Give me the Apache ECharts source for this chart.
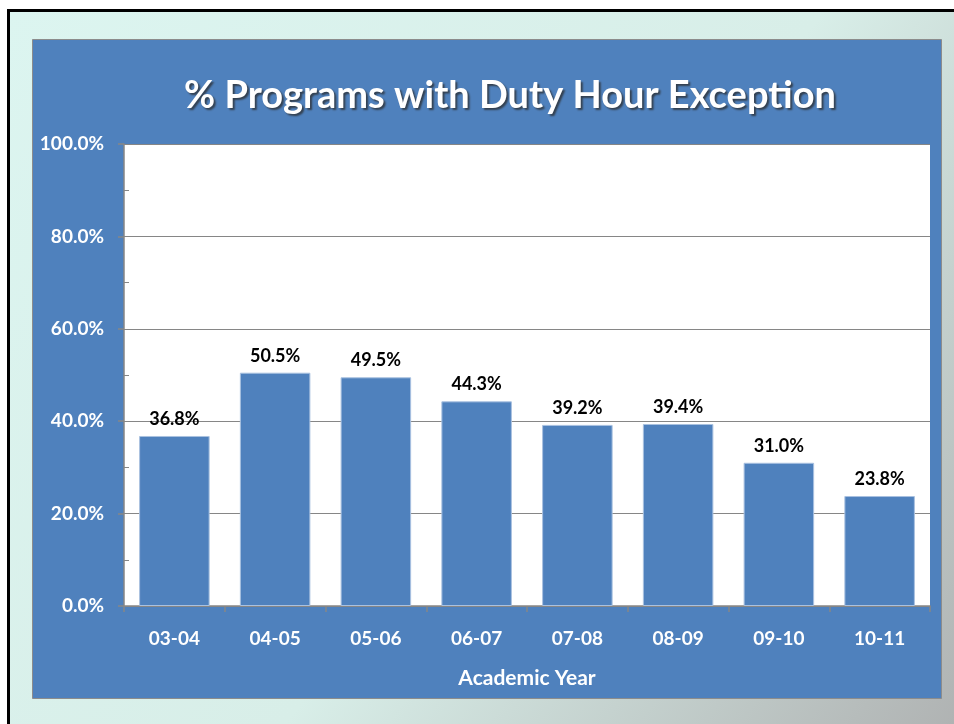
<!DOCTYPE html>
<html>
<head>
<meta charset="utf-8">
<script src="https://cdn.jsdelivr.net/npm/echarts@6/dist/echarts.min.js"></script>
<style>
  html, body { margin: 0; padding: 0; background: #fff; }
  #chart { width: 954px; height: 724px; }
</style>
</head>
<body>
<div id="chart"></div>
<script>
const years = ["03-04", "04-05", "05-06", "06-07", "07-08", "08-09", "09-10", "10-11"];
const pctWithException = [36.8, 50.5, 49.5, 44.3, 39.2, 39.4, 31.0, 23.8];

const blue = "#4F81BD";
const axisGray = "#868686";
const font = "Lato";

const chart = echarts.init(document.getElementById("chart"));

chart.setOption({
  animation: false,
  backgroundColor: "#ffffff",
  textStyle: { fontFamily: font },
  graphic: [
    // slide background with the black frame on top / left
    {
      type: "rect",
      z: -10,
      shape: { x: 7, y: 9, width: 947, height: 715 },
      style: {
        fill: new echarts.graphic.LinearGradient(0, 0, 1, 1, [
          { offset: 0, color: "#DCF5F0" },
          { offset: 0.55, color: "#D8EEE8" },
          { offset: 1, color: "#B0B3B3" }
        ])
      }
    },
    { type: "rect", z: -9, shape: { x: 7, y: 9, width: 947, height: 3 }, style: { fill: "#000" } },
    { type: "rect", z: -9, shape: { x: 7, y: 9, width: 3, height: 715 }, style: { fill: "#000" } },
    // blue chart panel
    {
      type: "rect",
      z: -8,
      shape: { x: 32.5, y: 39.5, width: 909, height: 659 },
      style: { fill: blue, stroke: "#8C8C8C", lineWidth: 1 }
    },
    // white plot area
    {
      type: "rect",
      z: -7,
      shape: { x: 124, y: 144, width: 806, height: 462 },
      style: { fill: "#ffffff" }
    }
  ],
  title: {
    text: "% Programs with Duty Hour Exception",
    left: 505,
    top: 72,
    textAlign: "center",
    textStyle: {
      color: "#ffffff",
      fontFamily: font,
      fontWeight: "bold",
      fontSize: 38,
      textShadowColor: "rgba(40,40,40,0.75)",
      textShadowOffsetX: 2,
      textShadowOffsetY: 2,
      textShadowBlur: 2
    }
  },
  grid: { left: 124, top: 144, right: 24, bottom: 118 },
  xAxis: {
    type: "category",
    data: years,
    name: "Academic Year",
    nameLocation: "middle",
    nameGap: 62,
    nameTextStyle: { color: "#fff", fontWeight: "bold", fontSize: 21, fontFamily: font },
    axisLine: { lineStyle: { color: axisGray, width: 1.5 } },
    axisTick: { show: true, alignWithLabel: false, length: 6, lineStyle: { color: axisGray, width: 1.5 } },
    axisLabel: { color: "#fff", fontWeight: "bold", fontSize: 19, margin: 23, fontFamily: font }
  },
  yAxis: [
    {
      type: "value",
      position: "left",
      min: 0,
      max: 100,
      interval: 20,
      axisLine: { show: true, lineStyle: { color: axisGray, width: 1.5 } },
      axisTick: { show: true, length: 6, lineStyle: { color: axisGray, width: 1.5 } },
      axisLabel: {
        color: "#fff",
        fontWeight: "bold",
        fontSize: 19,
        margin: 20,
        fontFamily: font,
        formatter: (v) => v.toFixed(1) + "%"
      },
      splitLine: { show: true, lineStyle: { color: axisGray, width: 1 } }
    },
    {
      // minor ticks every 10%, pointing into the plot
      type: "value",
      position: "left",
      min: 0,
      max: 100,
      interval: 10,
      axisLine: { show: false },
      axisTick: { show: true, inside: true, length: 5, lineStyle: { color: axisGray, width: 1 } },
      axisLabel: { show: false },
      splitLine: { show: false }
    }
  ],
  series: [
    {
      type: "bar",
      data: pctWithException,
      barCategoryGap: "30%",
      itemStyle: { color: blue, borderColor: "#A9C1E0", borderWidth: 1 },
      label: {
        show: true,
        position: "top",
        distance: 8,
        color: "#000",
        fontWeight: "bold",
        fontSize: 18,
        fontFamily: font,
        formatter: (p) => p.value.toFixed(1) + "%"
      }
    }
  ]
});
</script>
</body>
</html>
